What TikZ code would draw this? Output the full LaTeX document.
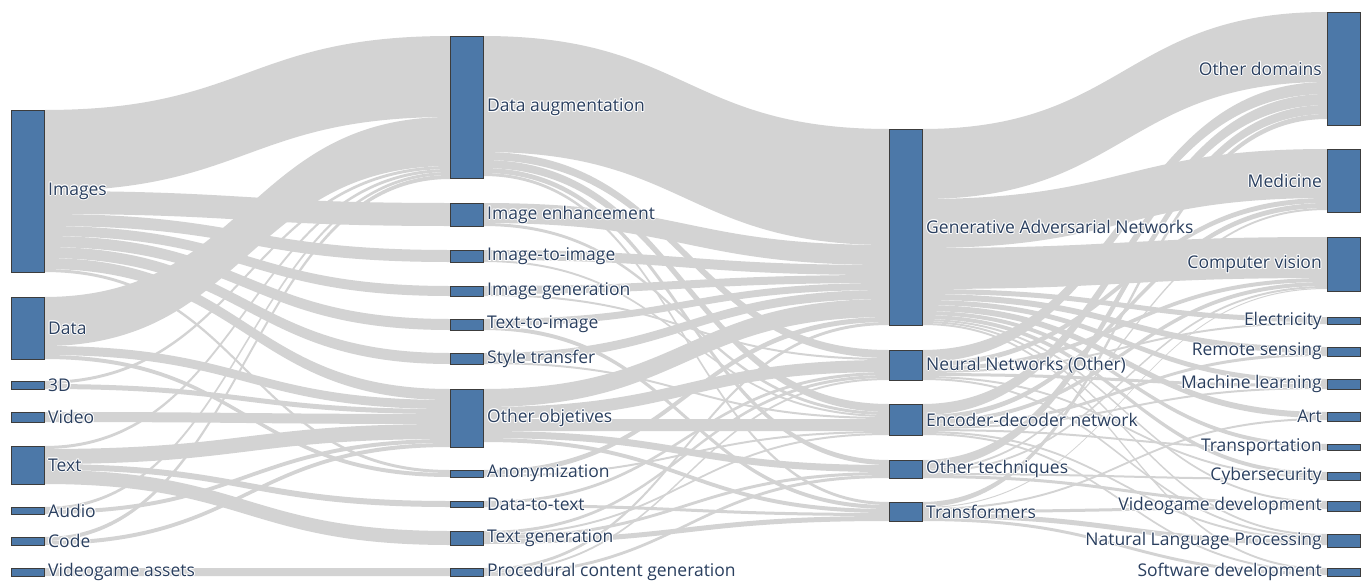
\documentclass[tikz,border=0pt]{standalone}
\usepackage{fontspec}
\setmainfont{Open Sans}
\usetikzlibrary{calc}
\pgfdeclarelayer{bg}
\pgfsetlayers{bg,main}
\definecolor{nodec}{RGB}{76,120,168}
\definecolor{nodeline}{RGB}{60,60,60}
\definecolor{linkc}{RGB}{211,211,211}
\definecolor{txtc}{RGB}{42,63,95}
\newcommand\halo[1]{\leavevmode
 \rlap{\textcolor{white}{\hspace*{-1pt}#1}}\rlap{\textcolor{white}{\hspace*{1pt}#1}}%
 \rlap{\textcolor{white}{\raisebox{1pt}{#1}}}\rlap{\textcolor{white}{\raisebox{-1pt}{#1}}}%
 \rlap{\textcolor{white}{\hspace*{-0.7pt}\raisebox{0.7pt}{#1}}}\rlap{\textcolor{white}{\hspace*{0.7pt}\raisebox{0.7pt}{#1}}}%
 \rlap{\textcolor{white}{\hspace*{-0.7pt}\raisebox{-0.7pt}{#1}}}\rlap{\textcolor{white}{\hspace*{0.7pt}\raisebox{-0.7pt}{#1}}}%
 #1}
\tikzset{
 nodebox/.style={draw=nodeline, line width=0.8pt, fill=nodec, anchor=north west, inner sep=0pt, outer sep=0pt, minimum width=33pt},
 lab/.style={inner sep=0pt, text=txtc, font=\fontsize{17.5}{19}\selectfont},
 labr/.style={lab, anchor=west, xshift=4pt},
 labl/.style={lab, anchor=east, xshift=-5pt},
}
% node: name, x, top, bottom
\newcommand\nd[4]{%
 \node[nodebox, minimum height={(#4-#3)*1pt}] (#1) at (#2,#3) {};
 \expandafter\gdef\csname o@#1\endcsname{0}%
 \expandafter\gdef\csname i@#1\endcsname{0}}
% link: source, target, width
\newcommand\lk[3]{%
 \edef\oa{\csname o@#1\endcsname}\edef\ob{\csname i@#2\endcsname}%
 \begin{pgfonlayer}{bg}
 \fill[linkc] let \p1=([yshift=-\oa pt]#1.north east), \p2=([yshift=-\ob pt]#2.north west),
   \p3=([yshift={-(\oa+#3)*1pt}]#1.north east), \p4=([yshift={-(\ob+#3)*1pt}]#2.north west),
   \n1={(\x1+\x2)/2} in
   (\p1) .. controls (\n1,\y1) and (\n1,\y2) .. (\p2) -- (\p4)
   .. controls (\n1,\y4) and (\n1,\y3) .. (\p3) -- cycle;
 \end{pgfonlayer}
 \pgfmathsetmacro\tmp{\oa+#3}\expandafter\xdef\csname o@#1\endcsname{\tmp}%
 \pgfmathsetmacro\tmp{\ob+#3}\expandafter\xdef\csname i@#2\endcsname{\tmp}}
\begin{document}
\begin{tikzpicture}[x=1pt,y=-1pt]
\useasboundingbox (0,0) rectangle (1369,584);
% column 1
\nd{Img}{11}{110}{272}
\nd{Dat}{11}{297}{359}
\nd{ThD}{11}{381}{389}
\nd{Vid}{11}{412}{422}
\nd{Txt}{11}{446}{484}
\nd{Aud}{11}{507}{514}
\nd{Cod}{11}{537}{545}
\nd{VGa}{11}{568}{576}
% column 2
\nd{DA}{450}{36}{178}
\nd{IE}{450}{203}{226}
\nd{IiI}{450}{250}{262}
\nd{IG}{450}{286}{296}
\nd{TiI}{450}{319}{330}
\nd{ST}{450}{353}{364}
\nd{OO}{450}{389}{447}
\nd{An}{450}{470}{477}
\nd{DtT}{450}{501}{507}
\nd{TG}{450}{531}{545}
\nd{PCG}{450}{568}{576}
% column 3
\nd{GAN}{889}{129}{325}
\nd{NN}{889}{350}{380}
\nd{ED}{889}{404}{435}
\nd{OT}{889}{460}{478}
\nd{Tr}{889}{502}{521}
% column 4
\nd{OD}{1327}{12}{125}
\nd{Med}{1327}{149}{212}
\nd{CV}{1327}{237}{291}
\nd{El}{1327}{317}{324}
\nd{RS}{1327}{347}{356}
\nd{ML}{1327}{379}{389}
\nd{Art}{1327}{412}{421}
\nd{Tra}{1327}{444}{450}
\nd{Cyb}{1327}{472}{480}
\nd{VGd}{1327}{501}{511}
\nd{NLP}{1327}{534}{547}
\nd{SW}{1327}{568}{576}
% labels
\node[labr] (lImg) at (Img.east) {\halo{Images}};
\node[labr] (lDat) at (Dat.east) {\halo{Data}};
\node[labr] (lThD) at (ThD.east) {\halo{3D}};
\node[labr] (lVid) at (Vid.east) {\halo{Video}};
\node[labr] (lTxt) at (Txt.east) {\halo{Text}};
\node[labr] (lAud) at (Aud.east) {\halo{Audio}};
\node[labr] (lCod) at (Cod.east) {\halo{Code}};
\node[labr] (lVGa) at (VGa.east) {\halo{Videogame assets}};
\node[labr] (lDA) at (DA.east) {\halo{Data augmentation}};
\node[labr] (lIE) at (IE.east) {\halo{Image enhancement}};
\node[labr] (lIiI) at (IiI.east) {\halo{Image-to-image}};
\node[labr] (lIG) at (IG.east) {\halo{Image generation}};
\node[labr] (lTiI) at (TiI.east) {\halo{Text-to-image}};
\node[labr] (lST) at (ST.east) {\halo{Style transfer}};
\node[labr] (lOO) at (OO.east) {\halo{Other objetives}};
\node[labr] (lAn) at (An.east) {\halo{Anonymization}};
\node[labr] (lDtT) at (DtT.east) {\halo{Data-to-text}};
\node[labr] (lTG) at (TG.east) {\halo{Text generation}};
\node[labr] (lPCG) at (PCG.east) {\halo{Procedural content generation}};
\node[labr] (lGAN) at (GAN.east) {\halo{Generative Adversarial Networks}};
\node[labr] (lNN) at (NN.east) {\halo{Neural Networks (Other)}};
\node[labr] (lED) at (ED.east) {\halo{Encoder-decoder network}};
\node[labr] (lOT) at (OT.east) {\halo{Other techniques}};
\node[labr] (lTr) at (Tr.east) {\halo{Transformers}};
\node[labl] (lOD) at (OD.west) {\halo{Other domains}};
\node[labl] (lMed) at (Med.west) {\halo{Medicine}};
\node[labl] (lCV) at (CV.west) {\halo{Computer vision}};
\node[labl] (lEl) at (El.west) {\halo{Electricity}};
\node[labl] (lRS) at (RS.west) {\halo{Remote sensing}};
\node[labl] (lML) at (ML.west) {\halo{Machine learning}};
\node[labl] (lArt) at (Art.west) {\halo{Art}};
\node[labl] (lTra) at (Tra.west) {\halo{Transportation}};
\node[labl] (lCyb) at (Cyb.west) {\halo{Cybersecurity}};
\node[labl] (lVGd) at (VGd.west) {\halo{Videogame development}};
\node[labl] (lNLP) at (NLP.west) {\halo{Natural Language Processing}};
\node[labl] (lSW) at (SW.west) {\halo{Software development}};
% stage 1 links
\lk{Img}{DA}{81}\lk{Img}{IE}{23}\lk{Img}{IiI}{12}\lk{Img}{IG}{10}\lk{Img}{TiI}{11}\lk{Img}{ST}{11}\lk{Img}{OO}{11}\lk{Img}{An}{3}
\lk{Dat}{DA}{49}\lk{Dat}{OO}{9}\lk{Dat}{An}{4}
\lk{ThD}{DA}{3}\lk{ThD}{OO}{5}
\lk{Vid}{OO}{10}
\lk{Txt}{DA}{3}\lk{Txt}{OO}{15}\lk{Txt}{DtT}{6}\lk{Txt}{TG}{14}
\lk{Aud}{DA}{3}\lk{Aud}{OO}{4}
\lk{Cod}{DA}{4}\lk{Cod}{OO}{4}
\lk{VGa}{PCG}{8}
% stage 2 links
\lk{DA}{GAN}{116}\lk{DA}{NN}{8}\lk{DA}{ED}{8}\lk{DA}{OT}{5}\lk{DA}{Tr}{3}
\lk{IE}{GAN}{20}\lk{IE}{ED}{3}
\lk{IiI}{GAN}{10}\lk{IiI}{ED}{2}
\lk{IG}{GAN}{8}\lk{IG}{NN}{2}
\lk{TiI}{GAN}{7}\lk{TiI}{Tr}{4}
\lk{ST}{GAN}{9}\lk{ST}{ED}{2}
\lk{OO}{GAN}{18}\lk{OO}{NN}{12}\lk{OO}{ED}{12}\lk{OO}{OT}{7}\lk{OO}{Tr}{4}
\lk{An}{GAN}{5}\lk{An}{ED}{2}
\lk{DtT}{NN}{3}\lk{DtT}{Tr}{3}
\lk{TG}{NN}{3}\lk{TG}{ED}{2}\lk{TG}{OT}{3}\lk{TG}{Tr}{5}
\lk{PCG}{GAN}{3}\lk{PCG}{NN}{2}\lk{PCG}{OT}{3}
% stage 3 links
\lk{GAN}{OD}{70}\lk{GAN}{Med}{49}\lk{GAN}{CV}{41}\lk{GAN}{El}{5}\lk{GAN}{RS}{6}\lk{GAN}{ML}{5}\lk{GAN}{Art}{6}\lk{GAN}{Tra}{4}\lk{GAN}{Cyb}{4}\lk{GAN}{VGd}{2}\lk{GAN}{NLP}{2}\lk{GAN}{SW}{2}
\lk{NN}{OD}{12}\lk{NN}{Med}{5}\lk{NN}{CV}{4}\lk{NN}{El}{2}\lk{NN}{ML}{3}\lk{NN}{Cyb}{2}\lk{NN}{NLP}{2}
\lk{ED}{OD}{11}\lk{ED}{Med}{5}\lk{ED}{CV}{4}\lk{ED}{RS}{3}\lk{ED}{ML}{2}\lk{ED}{Tra}{2}\lk{ED}{NLP}{2}\lk{ED}{SW}{2}
\lk{OT}{OD}{9}\lk{OT}{Med}{2}\lk{OT}{CV}{2}\lk{OT}{Cyb}{2}\lk{OT}{VGd}{3}
\lk{Tr}{OD}{5}\lk{Tr}{CV}{1}\lk{Tr}{Art}{2}\lk{Tr}{VGd}{3}\lk{Tr}{NLP}{5}\lk{Tr}{SW}{3}
\end{tikzpicture}
\end{document}
